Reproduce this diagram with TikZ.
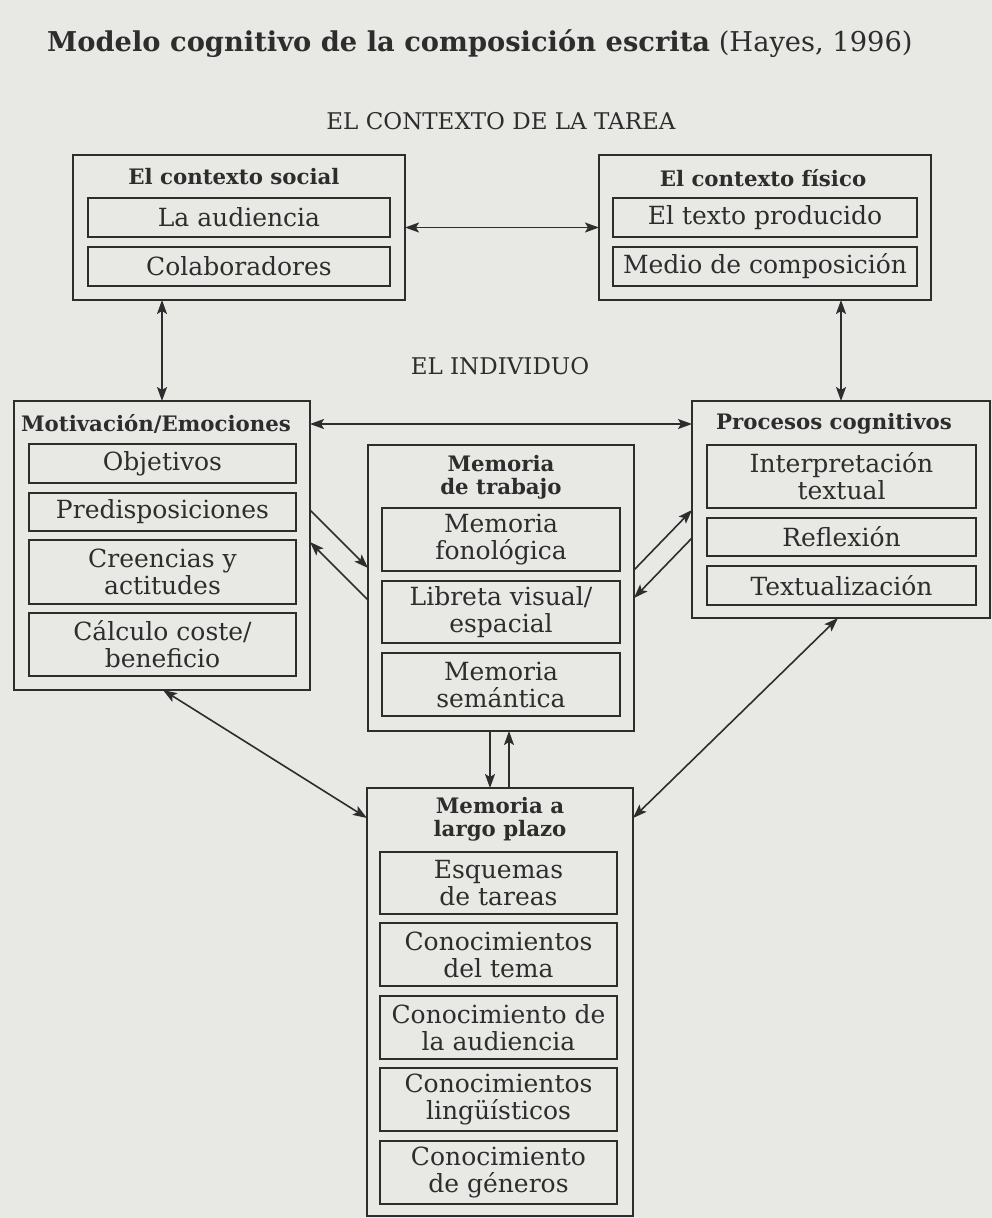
\documentclass[tikz,border=0pt]{standalone}
\usepackage{fontspec}
\setmainfont{DejaVu Serif}
\usetikzlibrary{arrows.meta}
\definecolor{ink}{RGB}{45,45,45}
\definecolor{paper}{RGB}{232,232,229}
\newcommand{\boxfont}{\fontsize{25bp}{27bp}\selectfont}
\newcommand{\headfont}{\fontsize{21.3bp}{23bp}\selectfont\bfseries}
\begin{document}
\begin{tikzpicture}[x=1bp,y=-1bp,
  >={Stealth[length=14bp,width=10bp,inset=3bp]},
  outerbox/.style={draw=ink, line width=1.9bp, inner sep=0pt, outer sep=0pt, anchor=north west},
  innerbox/.style={draw=ink, line width=1.9bp, inner sep=0pt, outer sep=0pt, anchor=north west,
     align=center, font=\boxfont, text=ink},
  head/.style={inner sep=0pt, align=center, font=\headfont, text=ink},
  conn/.style={draw=ink, line width=1.6bp}]
\fill[paper] (0,0) rectangle (992,1218);
\useasboundingbox (0,0) rectangle (992,1218);

% title and section labels
\node[anchor=base west, inner sep=0pt, text=ink, font=\fontsize{27.3bp}{30bp}\selectfont] (title) at (47,51)
  {\textbf{Modelo cognitivo de la composición escrita} (Hayes, 1996)};
\node[anchor=base, inner sep=0pt, text=ink, font=\fontsize{23bp}{25bp}\selectfont] (tarea) at (501,129) {EL CONTEXTO DE LA TAREA};
\node[anchor=base, inner sep=0pt, text=ink, font=\fontsize{23bp}{25bp}\selectfont] (indiv) at (500,374) {EL INDIVIDUO};

% El contexto social
\node[outerbox, minimum width=332bp, minimum height=145bp] (soc) at (73,155) {};
\node[head] (socT) at (234,177) {El contexto social};
\node[innerbox, minimum width=302bp, minimum height=39bp] (aud) at (88,198) {La audiencia};
\node[innerbox, minimum width=302bp, minimum height=39bp] (colab) at (88,247) {Colaboradores};

% El contexto fisico
\node[outerbox, minimum width=332bp, minimum height=145bp] (fis) at (599,155) {};
\node[head] (fisT) at (763,178) {El contexto físico};
\node[innerbox, minimum width=304bp, minimum height=39bp] (tex) at (613,198) {El texto producido};
\node[innerbox, minimum width=304bp, minimum height=39bp] (med) at (613,247) {Medio de composición};

% Motivacion / Emociones
\node[outerbox, minimum width=296bp, minimum height=289bp] (mot) at (14,401) {};
\node[head] (motT) at (156,424) {Motivación/Emociones};
\node[innerbox, minimum width=267bp, minimum height=39bp] (obj) at (29,444) {Objetivos};
\node[innerbox, minimum width=267bp, minimum height=38bp] (pred) at (29,493) {Predisposiciones};
\node[innerbox, minimum width=267bp, minimum height=64bp] (cree) at (29,540) {Creencias y\\actitudes};
\node[innerbox, minimum width=267bp, minimum height=63bp] (calc) at (29,613) {Cálculo coste/\\beneficio};

% Procesos cognitivos
\node[outerbox, minimum width=298bp, minimum height=217bp] (proc) at (692,401) {};
\node[head] (procT) at (834,424) {Procesos cognitivos};
\node[innerbox, minimum width=269bp, minimum height=63bp] (interp) at (707,445) {Interpretación\\textual};
\node[innerbox, minimum width=269bp, minimum height=38bp] (refl) at (707,518) {Reflexión};
\node[innerbox, minimum width=269bp, minimum height=39bp] (textu) at (707,566) {Textualización};

% Memoria de trabajo
\node[outerbox, minimum width=266bp, minimum height=286bp] (wm) at (368,445) {};
\node[head] (wmT) at (501,477) {Memoria\\de trabajo};
\node[innerbox, minimum width=238bp, minimum height=63bp] (fono) at (382,508) {Memoria\\fonológica};
\node[innerbox, minimum width=238bp, minimum height=62bp] (lib) at (382,581) {Libreta visual/\\espacial};
\node[innerbox, minimum width=238bp, minimum height=63bp] (sem) at (382,653) {Memoria\\semántica};

% Memoria a largo plazo
\node[outerbox, minimum width=266bp, minimum height=428bp] (ltm) at (367,788) {};
\node[head] (ltmT) at (500,819) {Memoria a\\largo plazo};
\node[innerbox, minimum width=237bp, minimum height=62bp] (esq) at (380,852) {Esquemas\\de tareas};
\node[innerbox, minimum width=237bp, minimum height=63bp] (tema) at (380,923) {Conocimientos\\del tema};
\node[innerbox, minimum width=237bp, minimum height=63bp] (aud2) at (380,996) {Conocimiento de\\la audiencia};
\node[innerbox, minimum width=237bp, minimum height=63bp] (ling) at (380,1068) {Conocimientos\\lingüísticos};
\node[innerbox, minimum width=237bp, minimum height=63bp] (gen) at (380,1141) {Conocimiento\\de géneros};

% connectors
\draw[conn,<->] (soc.east) -- (fis.west);
\draw[conn,<->] (soc.south -| mot.north) -- (mot.north);
\draw[conn,<->] (fis.south -| proc.north) -- (proc.north);
\draw[conn,<->] (motT -| mot.east) -- (procT -| proc.west);
\draw[conn,->] (mot.east |- 0,510) -- (wm.west |- 0,568);
\draw[conn,->] (wm.west |- 0,600) -- (mot.east |- 0,542);
\draw[conn,->] (wm.east |- 0,570) -- (proc.west |- 0,510);
\draw[conn,->] (proc.west |- 0,538) -- (wm.east |- 0,598);
\draw[conn,->] (wm.south -| 490,0) -- (ltm.north -| 490,0);
\draw[conn,->] (ltm.north -| 509,0) -- (wm.south -| 509,0);
\draw[conn,<->] (mot.south -| 163,0) -- (ltm.west |- 0,818);
\draw[conn,<->] (proc.south -| 838,0) -- (ltm.east |- 0,818);
\end{tikzpicture}
\end{document}
